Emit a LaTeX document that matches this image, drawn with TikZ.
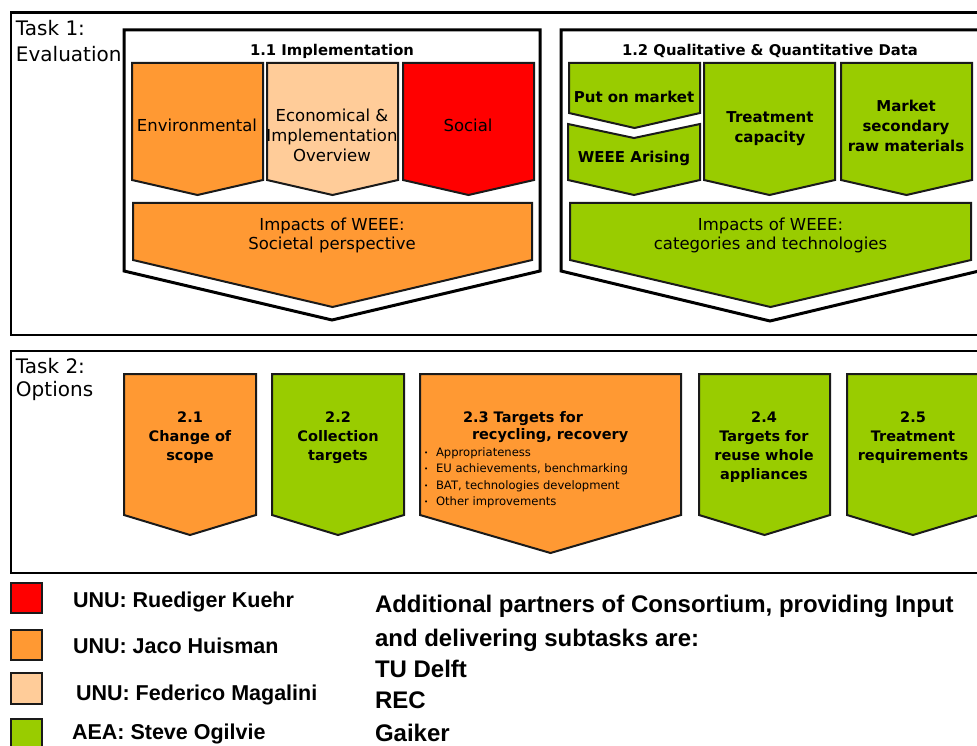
\documentclass[tikz,border=0pt]{standalone}
\usepackage{fontspec}
\setmainfont{DejaVu Sans}
\newfontfamily\legfont{Liberation Sans}

\definecolor{wOrange}{HTML}{FF9933}
\definecolor{wLight}{HTML}{FFCC99}
\definecolor{wRed}{HTML}{FF0000}
\definecolor{wGreen}{HTML}{99CC00}
\definecolor{wEdge}{HTML}{1A1A1A}

% zero-width strut fixing the height of a node's first line
\newcommand\lnup{\rule{0pt}{0.8em}}
% chevron: left, right, top, side bottom, tip
\newcommand\chevshape[6]{%
  \path[#1] (#2,#4) -- (#3,#4) -- (#3,#5) -- ({(#2+#3)/2},#6) -- (#2,#5) -- cycle;}

\begin{document}
\begin{tikzpicture}[x=1pt,y=-1pt,
  taskframe/.style={draw=black,line width=2.5pt},
  panel/.style={draw=black,fill=white,line width=3pt,line join=miter},
  chev/.style={draw=wEdge,line width=2pt,line join=miter},
  txt/.style={inner sep=0pt,outer sep=0pt},
  tasklab/.style={txt,align=left,font=\fontsize{20}{25.7}\selectfont},
  paneltitle/.style={txt,anchor=base,font=\bfseries\fontsize{14.8}{18}\selectfont},
  lab/.style={txt,align=center,font=\fontsize{16.5}{20}\selectfont},
  blab/.style={txt,align=center,font=\bfseries\fontsize{15}{20}\selectfont},
  tlab/.style={txt,align=center,font=\bfseries\fontsize{14.5}{19}\selectfont},
  bullets/.style={txt,align=left,font=\fontsize{11.6}{16.3}\selectfont},
  swatch/.style={draw=wEdge,line width=1.2pt},
  legname/.style={txt,anchor=base west,font=\legfont\bfseries\fontsize{21.5}{26}\selectfont},
  partners/.style={txt,align=left,anchor=north west,font=\legfont\bfseries\fontsize{24}{31}\selectfont}
]
\useasboundingbox (0,0) rectangle (977,746);
\clip (0,0) rectangle (977,746);
\fill[white] (0,0) rectangle (977,746);

% ---------------- Task 1 ----------------
\draw[taskframe] (11,12.5) rectangle (995,335);
\node[tasklab,anchor=north west] (t1) at (16,20) {\lnup Task 1:\\Evaluation};

% 1.1 Implementation
\chevshape{panel}{124}{540}{30}{271}{320}
\node[paneltitle] (p11) at (332,56) {1.1 Implementation};
\chevshape{chev,fill=wOrange}{132}{263}{63}{180}{195}
\chevshape{chev,fill=wLight}{267}{398}{63}{180}{195}
\chevshape{chev,fill=wRed}{403}{534}{63}{180}{195}
\chevshape{chev,fill=wOrange}{133}{532}{203}{260}{307}
\node[lab,anchor=base] (env) at (197,132) {Environmental};
\node[lab,anchor=north] (eco) at (332,108.8) {\lnup Economical \&\\Implementation\\Overview};
\node[lab,anchor=base] (soc) at (468,132) {Social};
\node[lab,anchor=north] (imp1) at (332,216.8) {\lnup Impacts of WEEE:\\Societal perspective};

% 1.2 Qualitative & Quantitative Data
\chevshape{panel}{561}{979}{30}{271}{321}
\node[paneltitle] (p12) at (770,56) {1.2 Qualitative \& Quantitative Data};
\path[chev,fill=wGreen] (568,124) -- (634,138) -- (700,124) -- (700,180) -- (634,195) -- (568,180) -- cycle;
\chevshape{chev,fill=wGreen}{569}{700}{63}{113}{128}
\chevshape{chev,fill=wGreen}{704}{835}{63}{180}{195}
\chevshape{chev,fill=wGreen}{841}{972}{63}{180}{195}
\chevshape{chev,fill=wGreen}{570}{971}{203}{260}{307}
\node[blab,anchor=base] (pom) at (634,103) {Put on market};
\node[blab,anchor=base] (arise) at (634,163) {WEEE Arising};
\node[blab,anchor=north] (cap) at (770,111) {\lnup Treatment\\capacity};
\node[blab,anchor=north] (srm) at (906,100) {\lnup Market\\secondary\\raw materials};
\node[lab,anchor=north] (imp2) at (770.5,216.8) {\lnup Impacts of WEEE:\\categories and technologies};

% ---------------- Task 2 ----------------
\draw[taskframe] (11,351) rectangle (995,573);
\node[tasklab,anchor=north west,font=\fontsize{20}{23.5}\selectfont] (t2) at (16,357.3) {\lnup Task 2:\\Options};

\chevshape{chev,fill=wOrange}{124}{256}{374}{515}{535}
\chevshape{chev,fill=wGreen}{272}{404}{374}{515}{535}
\chevshape{chev,fill=wOrange}{420}{681}{374}{515}{553}
\chevshape{chev,fill=wGreen}{699}{830}{374}{515}{535}
\chevshape{chev,fill=wGreen}{847}{979}{374}{515}{535}

\node[tlab,anchor=north] (o21) at (190,410.4) {\lnup 2.1\\Change of\\scope};
\node[tlab,anchor=north] (o22) at (338,410.4) {\lnup 2.2\\Collection\\targets};
\node[tlab,align=left,anchor=north west,font=\bfseries\fontsize{14.5}{17.5}\selectfont] (o23) at (463,410.4)
  {\lnup 2.3 Targets for\\\hspace*{9pt}recycling, recovery};
\node[bullets,anchor=north west] (o23b) at (424,447.2)
  {\lnup\makebox[12pt][l]{\raisebox{1pt}{\scriptsize•}}Appropriateness\\
   \makebox[12pt][l]{\raisebox{1pt}{\scriptsize•}}EU achievements, benchmarking\\
   \makebox[12pt][l]{\raisebox{1pt}{\scriptsize•}}BAT, technologies development\\
   \makebox[12pt][l]{\raisebox{1pt}{\scriptsize•}}Other improvements};
\node[tlab,anchor=north] (o24) at (764,410.4) {\lnup 2.4\\Targets for\\reuse whole\\appliances};
\node[tlab,anchor=north] (o25) at (913,410.4) {\lnup 2.5\\Treatment\\requirements};

% ---------------- Legend ----------------
\draw[swatch,fill=wRed] (11,583) rectangle (42,613);
\draw[swatch,fill=wOrange] (11,630) rectangle (42,660);
\draw[swatch,fill=wLight] (11,673) rectangle (42,704);
\draw[swatch,fill=wGreen] (11,719) rectangle (42,752);
\node[legname] (k1) at (73,607) {UNU: Ruediger Kuehr};
\node[legname] (k2) at (73,653) {UNU: Jaco Huisman};
\node[legname] (k3) at (76,700) {UNU: Federico Magalini};
\node[legname] (k4) at (72,739.5) {AEA: Steve Ogilvie};

\node[partners] (part) at (375,592.8)
  {\lnup Additional partners of Consortium, providing Input\\[3pt]
   and delivering subtasks are:\\
   TU Delft\\
   REC\\[2pt]
   Gaiker};
\end{tikzpicture}
\end{document}
